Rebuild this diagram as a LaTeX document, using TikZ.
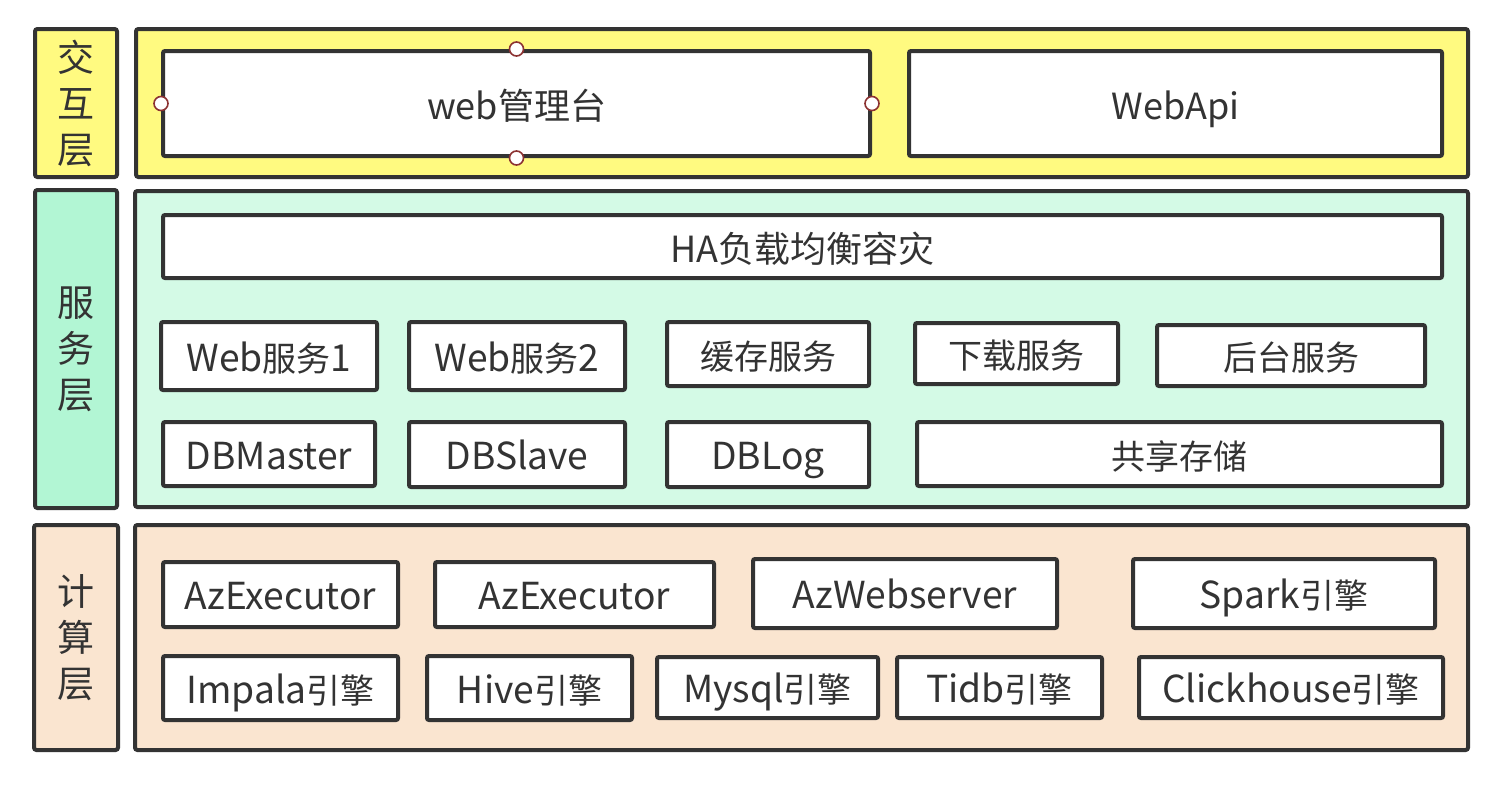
\documentclass[tikz,border=0pt]{standalone}
\usepackage{fontspec}
\setmainfont{Noto Sans CJK SC}
\definecolor{linec}{RGB}{51,51,51}
\definecolor{textc}{RGB}{51,51,51}
\definecolor{yel}{RGB}{255,250,128}
\definecolor{mintl}{RGB}{178,246,212}
\definecolor{mintp}{RGB}{212,250,230}
\definecolor{peach}{RGB}{250,229,208}
\definecolor{handle}{RGB}{140,50,50}
\newcommand\lt[1]{{\fontsize{18.6}{20}\selectfont #1}}
\tikzset{
  panel/.style={draw=linec, line width=2pt, rounded corners=1.2pt, inner sep=0pt},
  box/.style={draw=linec, line width=2pt, fill=white, rounded corners=1pt, inner sep=0pt, text=textc, font=\fontsize{17}{20}\selectfont, text height=15pt, text depth=0pt},
  bigbox/.style={box, font=\fontsize{18}{22}\selectfont, text height=15.5pt},
  lbl/.style={panel, text=textc, align=center, font=\fontsize{18.5}{23}\selectfont},
  handlec/.style={circle, draw=handle, fill=white, line width=0.8pt, minimum size=7pt, inner sep=0pt},
}
\newcommand\bx[7][box]{\node[#1, minimum width={(#5-#3)*0.5pt}, minimum height={(#6-#4)*0.5pt}] (#2) at ({(#3+#5)/2},{(#4+#6)/2}) {#7};}
\begin{document}
\begin{tikzpicture}[x=0.5pt,y=-0.5pt]
\useasboundingbox (0,0) rectangle (1510,788);
% left labels
\bx[lbl,fill=yel]{lA}{35}{29}{117}{177}{交\\互\\层}
\bx[lbl,fill=mintl]{lB}{35}{190}{117}{508}{服\\务\\层}
\bx[lbl,fill=peach]{lC}{34}{525}{118}{750}{计\\算\\层}
% panels
\bx[panel,fill=yel]{pA}{136}{29}{1468}{177}{}
\bx[panel,fill=mintp]{pB}{135}{191}{1468}{507}{}
\bx[panel,fill=peach]{pC}{135}{525}{1468}{750}{}
% interaction layer
\bx[bigbox]{web}{163}{51}{870}{156}{web管理台}
\bx[bigbox]{api}{909}{51}{1442}{156}{WebApi}
\foreach \a in {west,east,north,south}{\node[handlec] (h\a) at (web.\a) {};}
% service layer
\bx[bigbox]{ha}{163}{215}{1442}{278}{HA负载均衡容灾}
\bx{ws1}{161}{322}{377}{390}{\lt{Web}服务\lt{1}}
\bx{ws2}{409}{322}{625}{390}{\lt{Web}服务\lt{2}}
\bx{cache}{667}{322}{869}{386}{缓存服务}
\bx{down}{915}{323}{1118}{384}{下载服务}
\bx{back}{1157}{325}{1425}{386}{后台服务}
\bx{dbm}{163}{422}{375}{486}{\lt{DBMaster}}
\bx{dbs}{409}{422}{625}{487}{\lt{DBSlave}}
\bx{dbl}{667}{422}{869}{487}{\lt{DBLog}}
\bx{share}{917}{422}{1442}{486}{共享存储}
% compute layer
\bx{az1}{163}{562}{398}{627}{\lt{AzExecutor}}
\bx{az2}{435}{562}{714}{627}{\lt{AzExecutor}}
\bx{azw}{753}{559}{1057}{628}{\lt{AzWebserver}}
\bx{spark}{1133}{559}{1435}{628}{\lt{Spark}引擎}
\bx{impala}{163}{656}{398}{720}{\lt{Impala}引擎}
\bx{hive}{427}{656}{632}{720}{\lt{Hive}引擎}
\bx{mysql}{657}{657}{878}{718}{\lt{Mysql}引擎}
\bx{tidb}{897}{657}{1102}{718}{\lt{Tidb}引擎}
\bx{click}{1139}{657}{1443}{718}{\lt{Clickhouse}引擎}
\end{tikzpicture}
\end{document}
